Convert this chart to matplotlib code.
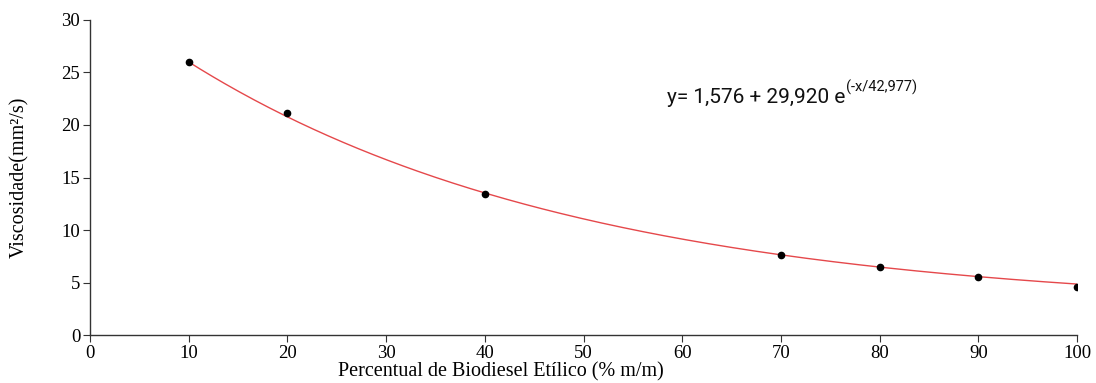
import numpy as np
import matplotlib
matplotlib.use("Agg")
import matplotlib.pyplot as plt

# Data points
biodiesel_pct = [10, 20, 40, 70, 80, 90, 100]
viscosity = [26.0, 21.1, 13.4, 7.6, 6.5, 5.5, 4.6]

# Fitted exponential decay curve as drawn (y = y0 + A*exp(-x/t))
fit_y0 = 2.36
fit_A = 30.36
fit_t = 40.0
fit_range = [10, 100]

equation_main = "y= 1,576 + 29,920 e"
equation_sup = "(-x/42,977)"

xticks = list(range(0, 101, 10))
yticks = list(range(0, 31, 5))

fig = plt.figure(figsize=(10.96, 3.83), dpi=100)
ax = fig.add_axes([0.0821, 0.1253, 0.9006, 0.8225])

xf = np.linspace(fit_range[0], fit_range[1], 300)
yf = fit_y0 + fit_A * np.exp(-xf / fit_t)
ax.plot(xf, yf, color='#e5484b', lw=1.0, zorder=2)
ax.plot(biodiesel_pct, viscosity, 'o', color='black', ms=4.5, zorder=3)

ax.set_xlim(0, 100)
ax.set_ylim(0, 30)
ax.set_xticks(xticks)
ax.set_yticks(yticks)

for s in ['top', 'right']:
    ax.spines[s].set_visible(False)
for s in ['left', 'bottom']:
    ax.spines[s].set_color('#333333')
    ax.spines[s].set_linewidth(1.0)

ax.tick_params(direction='out', length=5, width=0.8, color='#333333',
               labelsize=13.5, pad=2)
for lbl in ax.get_xticklabels() + ax.get_yticklabels():
    lbl.set_fontfamily('Liberation Serif')

ax.set_xlabel('Percentual de Biodiesel Etílico (% m/m)', fontsize=14.5,
              fontfamily='Liberation Serif')
ax.xaxis.set_label_coords(0.416, -0.088)
ax.set_ylabel('Viscosidade(mm²/s)', fontsize=14.5, fontfamily='Liberation Serif')
ax.yaxis.set_label_coords(-0.062, 0.5)

t1 = ax.text(58.5, 22.6, equation_main, fontsize=15, fontfamily='Roboto',
             va='center', ha='left', color='#111111')
ax.annotate(equation_sup, xy=(1.0, 0.62), xycoords=t1, fontsize=10.5,
            fontfamily='Roboto', va='bottom', ha='left', color='#111111')

fig.savefig('out.png', dpi=100)
